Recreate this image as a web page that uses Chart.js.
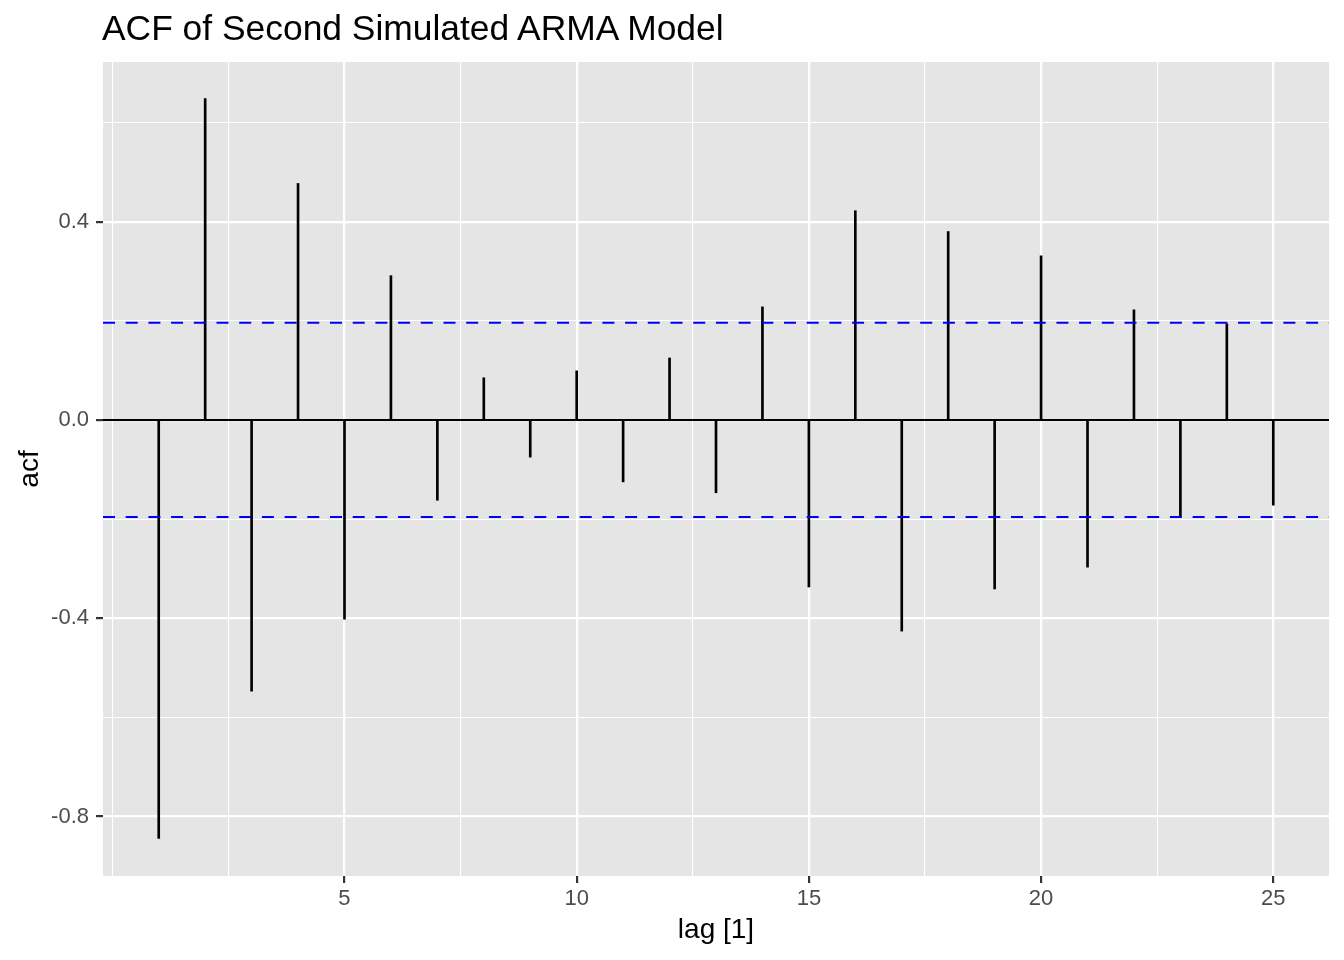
<!DOCTYPE html>
<html lang="en">
<head>
    <meta charset="UTF-8">
    <script src="https://cdn.jsdelivr.net/npm/chart.js"></script>
    <title>ACF of Second Simulated ARMA Model</title>
    <style>
        body { margin: 0; background: #ffffff; }
        #wrap { position: relative; width: 1344px; height: 960px; }
        #titulo {
            position: absolute; left: 102px; top: 11px; margin: 0;
            font: 35.4px/35px "Liberation Sans", Arial, Helvetica, sans-serif;
            font-weight: normal; color: #000000; white-space: nowrap;
        }
    </style>
</head>
<body>

    <div id="wrap">
        <h1 id="titulo">ACF of Second Simulated ARMA Model</h1>
        <canvas id="grafico" width="1344" height="960"></canvas>
    </div>

<script>

    // dados
    var lags = [1, 2, 3, 4, 5, 6, 7, 8, 9, 10, 11, 12, 13, 14, 15, 16, 17, 18, 19, 20, 21, 22, 23, 24, 25];
    var acfValores = [-0.844, 0.648, -0.547, 0.477, -0.402, 0.291, -0.162, 0.085, -0.075, 0.099,
                      -0.125, 0.125, -0.147, 0.228, -0.337, 0.422, -0.426, 0.380, -0.341, 0.331,
                      -0.297, 0.222, -0.194, 0.194, -0.172];
    var limiteConfianca = 0.196;

    var xTicks = [0, 2.5, 5, 7.5, 10, 12.5, 15, 17.5, 20, 22.5, 25];
    var yTicks = [-0.8, -0.6, -0.4, -0.2, 0, 0.2, 0.4, 0.6];

    var xMin = -0.2, xMax = 26.2;
    var yMin = -0.920, yMax = 0.722;

    var fonte = '"Liberation Sans", Arial, Helvetica, sans-serif';

    function xMaior(v) { return v > 0 && v % 5 === 0; }
    function yMaior(v) { return Math.round(v * 10) % 4 === 0; }

    const fundoPainel = {
        id: 'fundoPainel',
        beforeDraw(chart) {
            const a = chart.chartArea;
            const ctx = chart.ctx;
            ctx.save();
            ctx.fillStyle = '#e5e5e5';
            ctx.fillRect(a.left, a.top, a.right - a.left, a.bottom - a.top);
            ctx.restore();
        }
    };

    const barras = lags.map((l, i) => ({ x: l, y: [0, acfValores[i]] }));

    const ctx = document.getElementById('grafico').getContext('2d');
    const grafico = new Chart(ctx, {
        type: 'bar',
        data: {
            datasets: [
                {
                    type: 'line',
                    label: 'ci+',
                    data: [{ x: xMin, y: limiteConfianca }, { x: xMax, y: limiteConfianca }],
                    borderColor: '#0000ff',
                    borderWidth: 2,
                    borderDash: [12, 10.7],
                    pointRadius: 0,
                    order: 0
                },
                {
                    type: 'line',
                    label: 'ci-',
                    data: [{ x: xMin, y: -limiteConfianca }, { x: xMax, y: -limiteConfianca }],
                    borderColor: '#0000ff',
                    borderWidth: 2,
                    borderDash: [12, 10.7],
                    pointRadius: 0,
                    order: 0
                },
                {
                    label: 'acf',
                    data: barras,
                    backgroundColor: '#000000',
                    borderWidth: 0,
                    barThickness: 2,
                    order: 1
                },
                {
                    type: 'line',
                    label: 'zero',
                    data: [{ x: xMin, y: 0 }, { x: xMax, y: 0 }],
                    borderColor: '#000000',
                    borderWidth: 2,
                    pointRadius: 0,
                    order: 2
                }
            ]
        },
        options: {
            responsive: false,
            animation: false,
            events: [],
            layout: { padding: { top: 62, right: 15, left: 0, bottom: 0 } },
            plugins: {
                legend: { display: false },
                tooltip: { enabled: false },
                title: { display: false }
            },
            scales: {
                x: {
                    type: 'linear',
                    min: xMin,
                    max: xMax,
                    offset: false,
                    afterBuildTicks: (s) => { s.ticks = xTicks.map(v => ({ value: v })); },
                    afterFit: (s) => { s.height = 84; },
                    border: { display: false },
                    grid: {
                        offset: false,
                        color: '#ffffff',
                        lineWidth: (c) => xMaior(c.tick.value) ? 2.2 : 1.1,
                        tickLength: 7,
                        tickColor: (c) => xMaior(c.tick.value) ? '#333333' : 'rgba(0,0,0,0)',
                        tickWidth: 2.2
                    },
                    ticks: {
                        autoSkip: false,
                        maxRotation: 0,
                        padding: 3,
                        color: '#4d4d4d',
                        font: { family: fonte, size: 22 },
                        callback: (v) => xMaior(v) ? String(v) : ''
                    },
                    title: {
                        display: true,
                        text: 'lag [1]',
                        color: '#000000',
                        font: { family: fonte, size: 28 },
                        padding: { top: 0, bottom: 13 }
                    }
                },
                y: {
                    type: 'linear',
                    min: yMin,
                    max: yMax,
                    afterBuildTicks: (s) => { s.ticks = yTicks.map(v => ({ value: v })); },
                    afterFit: (s) => { s.width = 103; },
                    border: { display: false },
                    grid: {
                        color: '#ffffff',
                        lineWidth: (c) => yMaior(c.tick.value) ? 2.2 : 1.1,
                        tickLength: 7,
                        tickColor: (c) => yMaior(c.tick.value) ? '#333333' : 'rgba(0,0,0,0)',
                        tickWidth: 2.2
                    },
                    ticks: {
                        autoSkip: false,
                        padding: 7,
                        color: '#4d4d4d',
                        font: { family: fonte, size: 22 },
                        callback: (v) => yMaior(v) ? v.toFixed(1) : ''
                    },
                    title: {
                        display: true,
                        text: 'acf',
                        color: '#000000',
                        font: { family: fonte, size: 28 },
                        padding: { top: 13, bottom: 0 }
                    }
                }
            }
        },
        plugins: [fundoPainel]
    });

</script>
</body>
</html>
